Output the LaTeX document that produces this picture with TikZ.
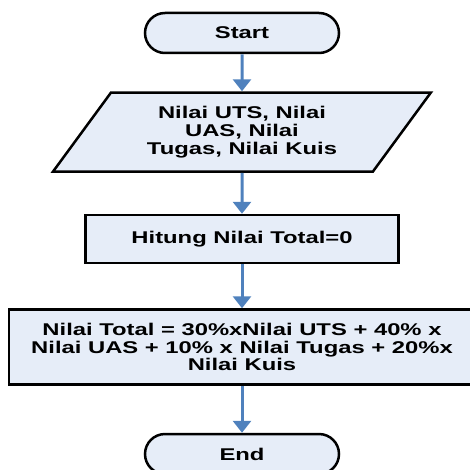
\documentclass[tikz,border=0pt]{standalone}
\usepackage{fontspec}
\setmainfont{Liberation Sans}
\newfontfamily\chartfont[FakeStretch=1.4]{Liberation Sans}
\usepackage{xcolor}
\usetikzlibrary{positioning,shapes.geometric,shapes.misc,arrows.meta}
\definecolor{boxfill}{RGB}{230,237,248}
\definecolor{flowblue}{RGB}{79,129,189}
\tikzset{
  fc terminal/.style={
    rounded rectangle,
    minimum width=194pt,
    minimum height=40pt,
    line width=2.5pt,
    draw=black,
    fill=boxfill,
    font=\chartfont\bfseries\fontsize{17}{18}\selectfont,
    inner sep=0pt,
  },
  fc io/.style={
    trapezium,
    trapezium left angle=51,
    trapezium right angle=129,
    trapezium stretches=true,
    minimum width=378pt,
    minimum height=79pt,
    line width=2.5pt,
    draw=black,
    fill=boxfill,
    align=center,
    font=\chartfont\bfseries\fontsize{17}{18}\selectfont,
    inner sep=0pt,
  },
  fc process/.style={
    rectangle,
    line width=2.5pt,
    draw=black,
    fill=boxfill,
    align=center,
    font=\chartfont\bfseries\fontsize{17}{17.5}\selectfont,
    inner sep=0pt,
  },
  fc arrow/.style={-{Triangle[width=18pt,length=12pt]}, line width=3pt, draw=flowblue},
}
\begin{document}
\begin{tikzpicture}[x=1pt,y=1pt]
  \useasboundingbox (0,0) rectangle (470,469);
  \node[fc terminal] (start) at (242,436) {Start};
  \node[fc io,below=37pt of start] (input) {Nilai UTS, Nilai\\UAS, Nilai\\Tugas, Nilai Kuis};
  \node[fc process,below=41pt of input,minimum width=313pt,minimum height=48pt] (init) {Hitung Nilai Total=0};
  \node[fc process,below=44pt of init,minimum width=466pt,minimum height=75pt] (calc)
    {Nilai Total = 30\%xNilai UTS + 40\% x\\Nilai UAS + 10\% x Nilai Tugas + 20\%x\\Nilai Kuis};
  \node[fc terminal,below=47pt of calc] (end) {End};

  \draw[fc arrow] (start) -- (input);
  \draw[fc arrow] (input) -- (init);
  \draw[fc arrow] (init) -- (calc);
  \draw[fc arrow] (calc) -- (end);
\end{tikzpicture}
\end{document}
